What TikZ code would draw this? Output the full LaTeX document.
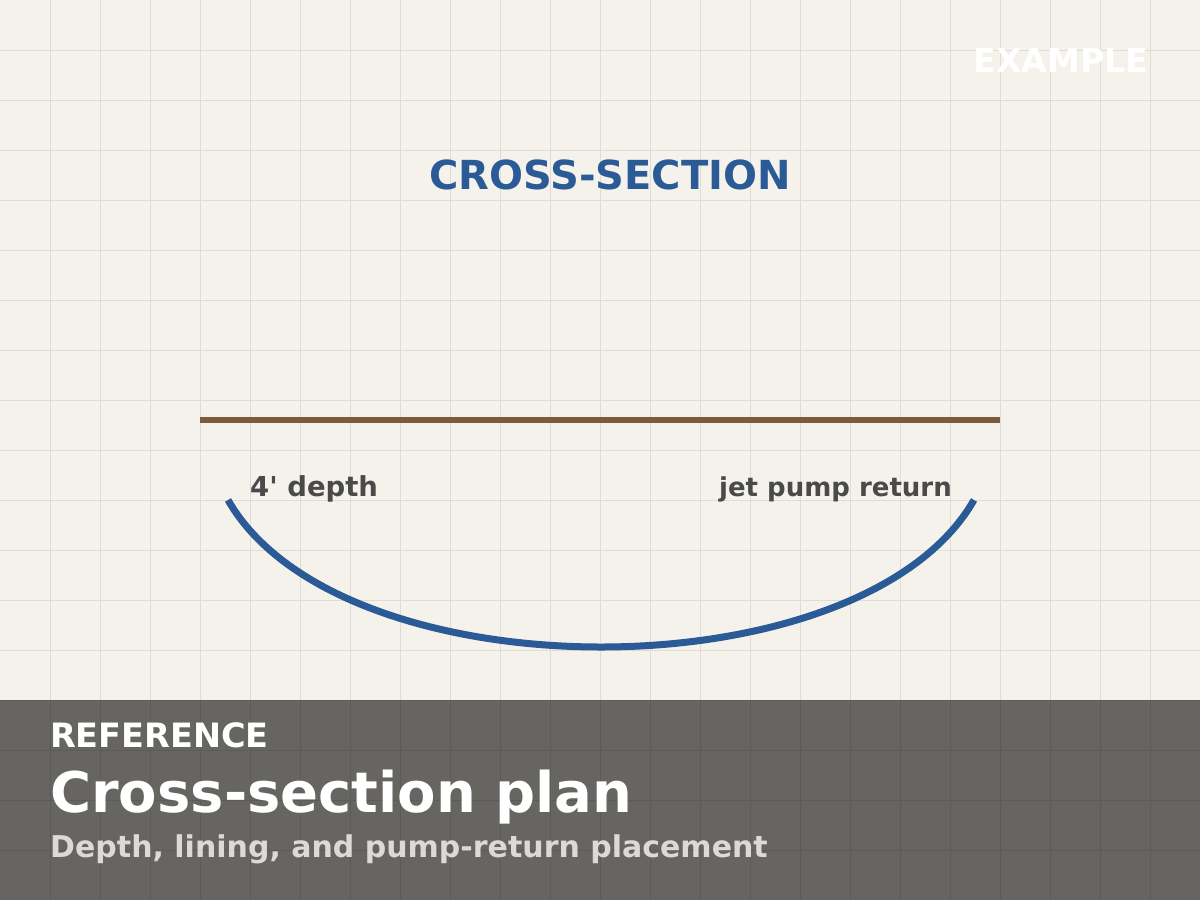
\documentclass[tikz,border=0pt]{standalone}
\usepackage{fontspec}
\setmainfont{DejaVu Sans}
\definecolor{paper}{HTML}{F5F2EC}
\definecolor{banner}{HTML}{666561}
\definecolor{pondblue}{HTML}{2A5B96}
\definecolor{soil}{HTML}{7A5A3B}
\definecolor{notegrey}{HTML}{4A4A4A}
\definecolor{subgrey}{HTML}{DCDAD7}
\newcommand{\pxfont}[1]{\bfseries\fontsize{#1}{#1}\selectfont}
\tikzset{
  sheet grid/.style={
    draw,
    line width=1pt,
    black,
    opacity=0.09
  },
  water line/.style={
    draw,
    line width=6pt,
    soil
  },
  pond floor/.style={
    draw,
    line width=7pt,
    pondblue
  },
  every node/.style={
    inner sep=0pt
  },
  note/.style={
    text=notegrey,
    font=\pxfont{26}
  }
}

\begin{document}
\begin{tikzpicture}[
    x=1pt,
    y=-1pt,
    ]
  \useasboundingbox (0,0) rectangle (1200,900);
  \fill[paper] (0,0) rectangle (1200,900);
  \fill[banner] (0,700) rectangle (1200,900);
  \path[sheet grid]
    \foreach \gx in {50,100,...,1150} {(\gx,0) -- (\gx,900)}
    \foreach \gy in {50,100,...,850} {(0,\gy) -- (1200,\gy)};
  \node[anchor=base east, text=white, font=\pxfont{33}] (stamp) at (1148,72) {EXAMPLE};
  \node[anchor=base, text=pondblue, font=\pxfont{40}] (section title) at (610,189) {CROSS-SECTION};
  % water line and pond floor
  \draw[water line] (200,420) -- (1000,420);
  \draw[pond floor] (228,500) .. controls (340,696) and (862,696) .. (974,500);
  \node[note, anchor=base west, font=\pxfont{27.5}] (depth label) at (250,496) {4\textquotesingle{} depth};
  \node[note, anchor=base east] (return label) at (952,496) {jet pump return};
  % banner
  \node[anchor=base west, text=white, font=\pxfont{33.5}] (kicker) at (50,747) {REFERENCE};
  \node[anchor=base west, text=white, font=\pxfont{56}] (plan title) at (50,812) {Cross-section plan};
  \node[anchor=base west, text=subgrey, font=\pxfont{30}] (plan subtitle) at (50,857) {Depth, lining, and pump-return placement};
\end{tikzpicture}
\end{document}
